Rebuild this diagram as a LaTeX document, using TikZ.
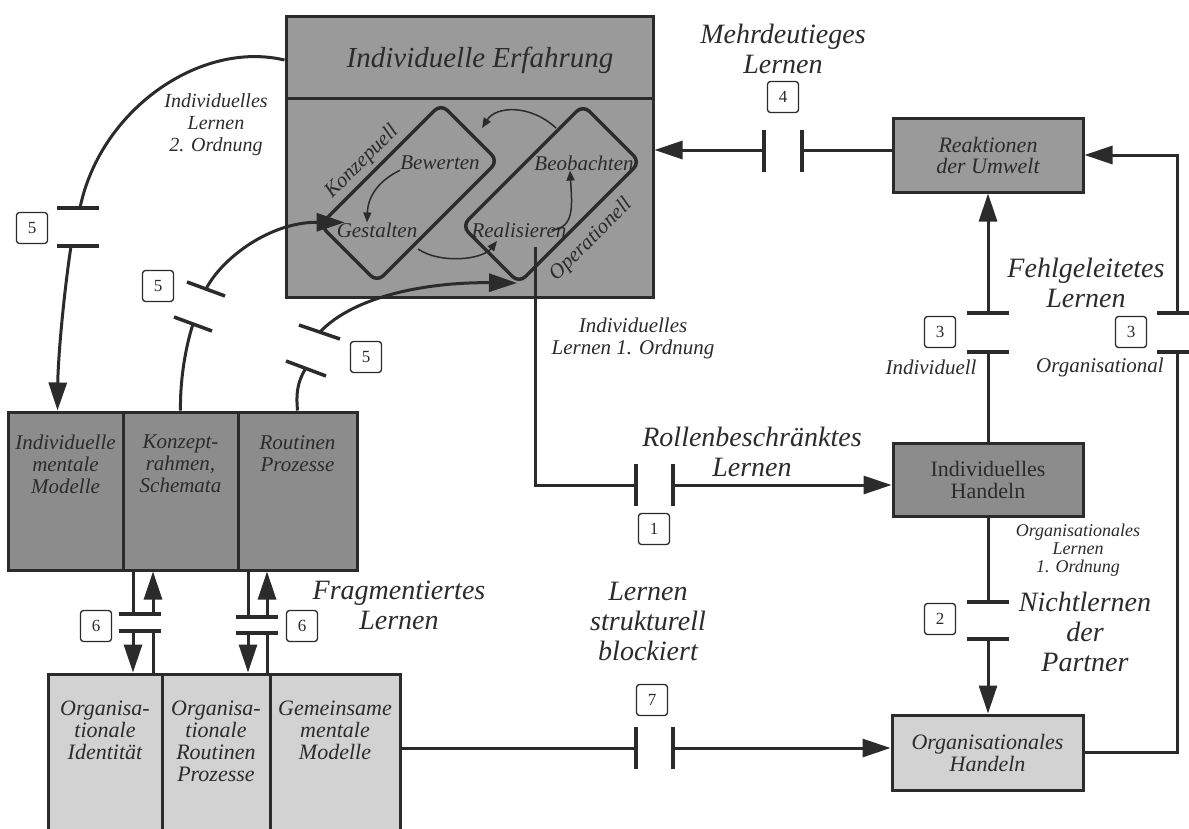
\documentclass[tikz,border=0pt]{standalone}
\usepackage{fontspec}
\setmainfont{Liberation Serif}
\usetikzlibrary{arrows.meta}
\definecolor{ink}{HTML}{2B2B2B}
\definecolor{darkfill}{HTML}{8C8C8C}
\definecolor{midfill}{HTML}{9A9A9A}
\definecolor{lightfill}{HTML}{D2D2D2}
\newcommand{\fsz}[2]{\fontsize{#1}{#2}\selectfont}
\tikzset{
 boxst/.style={draw=ink, line width=3pt, inner sep=0pt, text=ink},
 conn/.style={draw=ink, line width=3pt},
 arr/.style={conn, -{Triangle[length=28pt,width=18pt]}},
 sarr/.style={draw=ink, line width=1.5pt, -{Triangle[length=10pt,width=8pt]}},
 gatebar/.style={draw=ink, line width=3.5pt},
 diam/.style={draw=ink, line width=3.5pt, rounded corners=9pt},
 num/.style={draw=ink, line width=1.3pt, rounded corners=3pt, minimum width=31pt, minimum height=31pt, inner sep=0pt, fill=white, text=ink, font=\fsz{17}{17}},
 biglbl/.style={font=\fsz{28}{30}\itshape, align=center, inner sep=0pt, text=ink},
 smlbl/.style={font=\fsz{21}{22}\itshape, align=center, inner sep=0pt, text=ink},
 boxtxt/.style={font=\fsz{21}{22}\itshape, align=center, inner sep=0pt, text=ink},
 dlbl/.style={font=\fsz{21}{22}\itshape, inner sep=0pt, text=ink},
}
\begin{document}
\begin{tikzpicture}[x=1pt,y=-1pt]
\clip (0,0) rectangle (1189,828);
\fill[white] (0,0) rectangle (1189,828);

% ---------- top box: Individuelle Erfahrung ----------
\node[boxst, fill=midfill, minimum width=367pt, minimum height=281pt] (erf) at (469.5,156.5) {};
\draw[conn] (286,98) -- (653,98);
\node[font=\fsz{29}{30}\itshape, text=ink, inner sep=0pt] (erfT) at (480,60) {Individuelle Erfahrung};

% diamonds
\draw[diam] (441,104) -- (498,161) -- (377,282) -- (320,225) -- cycle;
\draw[diam] (583,105) -- (640,162) -- (519,283) -- (462,226) -- cycle;
\coordinate (opbot) at (517,283);
\node[dlbl, rotate=45] (konz) at (362,162) {Konzepuell};
\node[dlbl] (bew) at (440,163) {Bewerten};
\node[dlbl] (gest) at (377,230) {Gestalten};
\node[dlbl] (beo) at (584,163) {Beobachten};
\node[dlbl] (real) at (519,230) {Realisieren};
\node[dlbl, rotate=45] (oper) at (591,240) {Operationell};

% inner small arrows
\draw[sarr] (bew.south west) .. controls (380,180) and (368,195) .. ([xshift=-10pt]gest.north);
\draw[sarr] ([xshift=-15pt]real.east) .. controls (575,228) and (572,205) .. ([xshift=-14pt]beo.south);
\draw[sarr] (556,128) .. controls (530,104) and (496,106) .. (482,128);
\draw[sarr] (418,249) .. controls (440,264) and (482,260) .. (497,241);

% ---------- upper left boxes ----------
\node[boxst, fill=darkfill, minimum width=115pt, minimum height=158pt] (imm) at (65.5,491) {};
\node[boxst, fill=darkfill, minimum width=115pt, minimum height=158pt] (kon) at (180.5,491) {};
\node[boxst, fill=darkfill, minimum width=119pt, minimum height=158pt] (rou) at (297.5,491) {};
\node[boxtxt, anchor=north] (immT) at (65.5,435) {Individuelle\\mentale\\Modelle};
\node[boxtxt, anchor=north] (konT) at (180.5,435) {Konzept-\\rahmen,\\Schemata};
\node[boxtxt, anchor=north] (rouT) at (297.5,435) {Routinen\\Prozesse};

% ---------- lower left boxes ----------
\node[boxst, fill=lightfill, minimum width=114pt, minimum height=186pt] (oid) at (105,767) {};
\node[boxst, fill=lightfill, minimum width=108pt, minimum height=186pt] (orp) at (216,767) {};
\node[boxst, fill=lightfill, minimum width=130pt, minimum height=186pt] (gem) at (335,767) {};
\node[boxtxt, font=\fsz{22}{22}\itshape, anchor=north] (oidT) at (105,701) {Organisa-\\tionale\\Identität};
\node[boxtxt, font=\fsz{22}{22}\itshape, anchor=north] (orpT) at (216,701) {Organisa-\\tionale\\Routinen\\Prozesse};
\node[boxtxt, font=\fsz{22}{22}\itshape, anchor=north] (gemT) at (335,701) {Gemeinsame\\mentale\\Modelle};

% ---------- right boxes ----------
\node[boxst, fill=midfill, minimum width=190pt, minimum height=74pt, align=center, font=\fsz{22}{21}\itshape] (reak) at (988,155) {Reaktionen\\der Umwelt};
\node[boxst, fill=darkfill, minimum width=190pt, minimum height=73pt, align=center, font=\fsz{22}{22}] (ih) at (988,479.5) {Individuelles\\Handeln};
\node[boxst, fill=lightfill, minimum width=191pt, minimum height=75pt, align=center, font=\fsz{22}{22}\itshape] (oh) at (987.5,752.5) {Organisationales\\Handeln};

% ---------- labels ----------
\node[biglbl] (mehr) at (783,49) {Mehrdeutieges\\Lernen};
\node[biglbl] (fehl) at (1086,283) {Fehlgeleitetes\\Lernen};
\node[biglbl] (rol) at (752,452) {Rollenbeschränktes\\Lernen};
\node[biglbl] (nicht) at (1085,632) {Nichtlernen\\der\\Partner};
\node[biglbl] (blk) at (648,621) {Lernen\\strukturell\\blockiert};
\node[biglbl] (frag) at (399,605) {Fragmentiertes\\Lernen};
\node[smlbl] (indl) at (931,367) {Individuell};
\node[smlbl] (orgl) at (1100,367) {Organisational};
\node[smlbl] (il1) at (633,338) {Individuelles\\Lernen 1. Ordnung};
\node[smlbl, font=\fsz{20}{22}\itshape] (il2) at (216,125) {Individuelles\\Lernen\\2. Ordnung};
\node[font=\fsz{18}{18}\itshape, align=center, inner sep=0pt, text=ink] (ol1) at (1078,550) {Organisationales\\Lernen\\1. Ordnung};

% number boxes
\node[num] (n4) at (783,97) {4};
\node[num] (n3a) at (940,332) {3};
\node[num] (n3b) at (1131,332) {3};
\node[num] (n1) at (654,529) {1};
\node[num] (n2) at (940,619) {2};
\node[num] (n7) at (652,700) {7};
\node[num] (n6a) at (96,626) {6};
\node[num] (n6b) at (302,626) {6};
\node[num] (n5a) at (32,228) {5};
\node[num] (n5b) at (158,286) {5};
\node[num] (n5c) at (366,357) {5};

% ---------- gate 4 ----------
\coordinate (g4a) at (764,150); \coordinate (g4b) at (802,150);
\draw[gatebar] (764,130) -- (764,172);
\draw[gatebar] (802,130) -- (802,172);
\draw[arr] (g4a) -- (g4a -| erf.east);
\draw[conn] (g4b) -- (g4b -| reak.west);

% ---------- gates 3 ----------
\coordinate (g3a) at (988,313); \coordinate (g3b) at (988,352);
\draw[gatebar] (967,313) -- (1009,313);
\draw[gatebar] (967,352) -- (1009,352);
\draw[arr] (g3a) -- (reak.south);
\draw[conn] (ih.north) -- (g3b);
\coordinate (g3c) at (1177,313); \coordinate (g3d) at (1177,352);
\draw[gatebar] (1157,313) -- (1197,313);
\draw[gatebar] (1157,352) -- (1197,352);
\draw[arr] (g3c) |- (reak.east);
\draw[conn] (g3d) |- (oh.east);

% ---------- gate 2 ----------
\coordinate (g2a) at (988,602); \coordinate (g2b) at (988,639);
\draw[gatebar] (967,602) -- (1009,602);
\draw[gatebar] (967,639) -- (1009,639);
\draw[conn] (ih.south) -- (g2a);
\draw[arr] (g2b) -- (g2b |- oh.north);

% ---------- gate 1 ----------
\coordinate (realout) at (535,247);
\coordinate (g1a) at (636,485); \coordinate (g1b) at (673,485);
\draw[gatebar] (636,464) -- (636,506);
\draw[gatebar] (673,464) -- (673,506);
\draw[conn] (realout) |- (g1a);
\draw[arr] (g1b) -- (g1b -| ih.west);

% ---------- gate 7 ----------
\coordinate (g7a) at (636,748); \coordinate (g7b) at (673,748);
\draw[gatebar] (636,727) -- (636,769);
\draw[gatebar] (673,727) -- (673,769);
\draw[conn] (g7a -| gem.east) -- (g7a);
\draw[arr] (g7b) -- (g7b -| oh.west);

% ---------- gates 6 ----------
\coordinate (g6a) at (133,614); \coordinate (g6b) at (133,631);
\coordinate (g6c) at (153,614); \coordinate (g6d) at (153,631);
\draw[gatebar] (119,614) -- (161,614);
\draw[gatebar] (119,631) -- (161,631);
\draw[conn] (g6a |- kon.south) -- (g6a);
\draw[arr] (g6b) -- (g6b |- oid.north);
\draw[conn] (g6d |- oid.north) -- (g6d);
\draw[arr] (g6c) -- (g6c |- kon.south);
\coordinate (g6e) at (248,617); \coordinate (g6f) at (248,633);
\coordinate (g6g) at (267,617); \coordinate (g6h) at (267,633);
\draw[gatebar] (236,617) -- (278,617);
\draw[gatebar] (236,633) -- (278,633);
\draw[conn] (g6e |- rou.south) -- (g6e);
\draw[arr] (g6f) -- (g6f |- orp.north);
\draw[conn] (g6h |- orp.north) -- (g6h);
\draw[arr] (g6g) -- (g6g |- rou.south);

% ---------- gates 5 ----------
\coordinate (g5a) at (80,208); \coordinate (g5b) at (71,246);
\draw[gatebar] (57,208) -- (99,208);
\draw[gatebar] (57,246) -- (99,246);
\draw[conn] (erf.west |- erfT) .. controls (200,40) and (100,110) .. (g5a);
\draw[arr] (g5b) .. controls (63,300) and (58,360) .. ([xshift=-8pt]imm.north);

\coordinate (g5c) at (206,289); \coordinate (g5d) at (193,324);
\draw[gatebar] (187,282) -- (225,296);
\draw[gatebar] (174,317) -- (212,331);
\draw[arr] (g5c) .. controls (222,258) and (270,222) .. ([xshift=8pt]gest.north west);
\draw[conn] (g5d) .. controls (184,352) and (180,385) .. (kon.north);

\coordinate (g5e) at (320,332); \coordinate (g5f) at (306,368);
\draw[gatebar] (299,325) -- (340,339);
\draw[gatebar] (286,361) -- (326,376);
\draw[arr] (g5e) .. controls (355,295) and (430,282) .. (opbot);
\draw[conn] (g5f) .. controls (297,382) and (296,395) .. (rou.north);
\end{tikzpicture}
\end{document}
